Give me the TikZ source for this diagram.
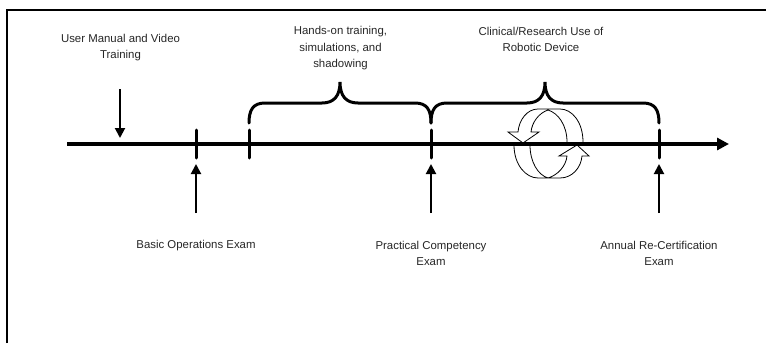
\documentclass[tikz,border=0pt]{standalone}
\usepackage{fontspec}
\setmainfont{Liberation Sans}
\usetikzlibrary{arrows.meta,calc,positioning}
\tikzset{
	label/.style={align=center,font=\fontsize{11.4pt}{16.5pt}\selectfont,text=black!85,inner sep=0pt},
	axis/.style={line width=3.6pt,-{Triangle[length=12pt,width=12pt]}},
	tick/.style={line width=3pt,line cap=round},
	pointer/.style={line width=2pt,-{Triangle[length=10pt,width=10pt]}},
	brace/.style={line width=3pt,line cap=round},
	cycle/.style={draw,line width=0.8pt}
}
\begin{document}
\begin{tikzpicture}[x=1pt,y=-1pt]
	\useasboundingbox (0,0) rectangle (766,343);
	\coordinate (c_tl) at (7,10);
	\coordinate (c_tr) at (766,10);
	\coordinate (c_bl) at (7,343);
	\draw[line width=2pt] (c_bl) -- (c_tl) -- (c_tr);
	% cycle arrows
	\draw[cycle] (583,142) .. controls (583,122) and (572,109) .. (560,109) -- (538,109)
		.. controls (527,109) and (519,120) .. (518,132)
		-- (508,132) -- (523,143) -- (539,132) -- (531,132)
		.. controls (532,122) and (539,113) .. (548,110)
		.. controls (558,113) and (567,125) .. (567,142);
	\draw[cycle] (514,145) .. controls (514,165) and (526,178) .. (538,178) -- (560,178)
		.. controls (572,178) and (581,168) .. (582,156)
		-- (589,156) -- (577,145) -- (559,156) -- (567,156)
		.. controls (566,166) and (558,175) .. (548,178)
		.. controls (538,175) and (530,162) .. (530,145);
	% time line
	\coordinate (a_0) at (67,144);
	\coordinate (a_1) at (729,144);
	\draw[axis] (a_0) -- (a_1);
	% ticks
	\foreach \name/\x in {basic/196,hands/249,comp/431,annual/659}{
		\coordinate (\name_t) at (\x,130);
		\coordinate (\name_b) at (\x,158);
		\draw[tick] (\name_t) -- (\name_b);
	}
	% labels
	\node[label] (manual) at (120.5,47.5) {User Manual and Video\\Training};
	\node[label] (training) at (340.5,48.5) {Hands-on training,\\simulations, and\\shadowing};
	\node[label] (clinical) at (541,39.5) {Clinical/Research Use of\\Robotic Device};
	\node[label] (basic) at (196,246) {Basic Operations Exam};
	\node[label] (comp) at (431,253.5) {Practical Competency\\Exam};
	\node[label] (annual) at (659,253.5) {Annual Re-Certification\\Exam};
	% pointers
	\coordinate (p_m) at (120,89);
	\coordinate (q_m) at (120,138);
	\draw[pointer] (p_m) -- (q_m);
	\foreach \name/\x in {basic/196,comp/431,annual/659}{
		\coordinate (\name_p) at (\x,213);
		\coordinate (\name_q) at (\x,164);
		\draw[pointer] (\name_p) -- (\name_q);
	}
	% braces
	\draw[brace] (249,123) .. controls (249,110) and (253,103) .. (265,103) -- (322,103)
		.. controls (334,103) and (340,96) .. (340,82)
		.. controls (340,96) and (346,103) .. (358,103) -- (415,103)
		.. controls (427,103) and (431,110) .. (431,123);
	\draw[brace] (431,123) .. controls (431,110) and (435,103) .. (447,103) -- (527,103)
		.. controls (539,103) and (545,96) .. (545,82)
		.. controls (545,96) and (551,103) .. (563,103) -- (643,103)
		.. controls (655,103) and (659,110) .. (659,123);
\end{tikzpicture}
\end{document}
